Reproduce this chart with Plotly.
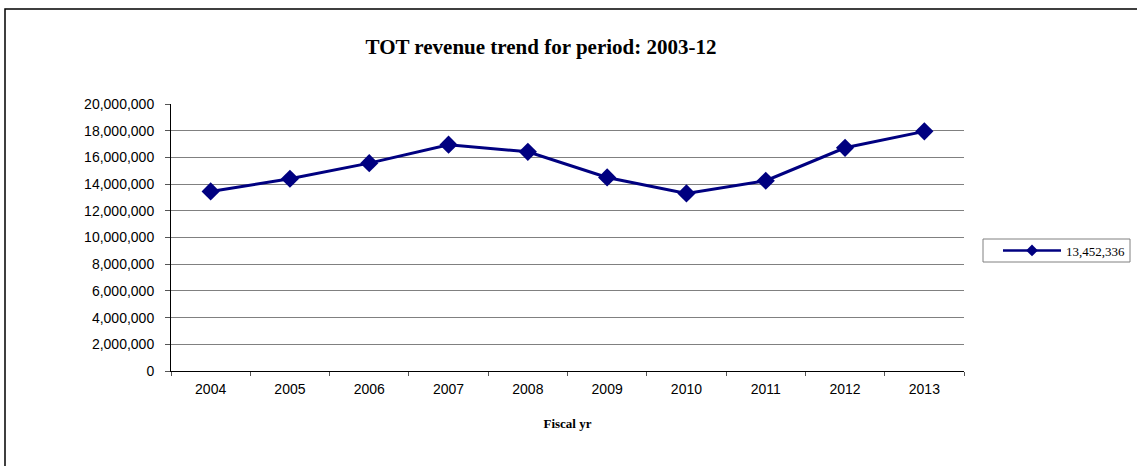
import plotly.graph_objects as go

years = ["2004", "2005", "2006", "2007", "2008", "2009", "2010", "2011", "2012", "2013"]
revenue = [13452336, 14400000, 15570000, 16950000, 16420000, 14500000, 13300000, 14250000, 16720000, 17950000]
series_name = "13,452,336"
y_ticks = [0, 2000000, 4000000, 6000000, 8000000, 10000000, 12000000, 14000000, 16000000, 18000000, 20000000]

W, H = 1137, 466
L, R, T, B = 171, 173, 104, 95
pw, ph = W - L - R, H - T - B


def px_x(p):
    return (p - L) / pw


def px_y(p):
    return (H - B - p) / ph


NAVY = "#000080"

fig = go.Figure()
fig.add_trace(go.Scatter(
    x=years, y=revenue, name=series_name, mode="lines+markers",
    line=dict(color=NAVY, width=3),
    marker=dict(symbol="diamond", size=14, color=NAVY),
    showlegend=False,
))
# legend entry (smaller marker as in the reference legend)
fig.add_trace(go.Scatter(
    x=[None], y=[None], name=series_name, mode="lines+markers",
    line=dict(color=NAVY, width=2.5),
    marker=dict(symbol="diamond", size=9, color=NAVY),
    showlegend=True,
))

fig.update_layout(
    width=W, height=H,
    margin=dict(l=L, r=R, t=T, b=B, autoexpand=False),
    paper_bgcolor="white", plot_bgcolor="white",
    title=dict(text="<b>TOT revenue trend for period: 2003-12</b>",
               font=dict(family="Liberation Serif", size=21, color="black"),
               x=541 / W, xanchor="center", y=1 - 47 / H, yanchor="middle"),
    showlegend=True,
    legend=dict(x=px_x(998), xanchor="left", y=px_y(250.5), yanchor="middle",
                borderwidth=0, bgcolor="rgba(0,0,0,0)",
                font=dict(family="Liberation Serif", size=13, color="black"),
                itemwidth=58, tracegroupgap=0),
    xaxis=dict(
        type="category", range=[-0.5, 9.5], tickson="boundaries", ticks="outside", ticklen=4,
        tickcolor="#555555",
        showline=True, linecolor="black", linewidth=1, showgrid=False,
        tickfont=dict(family="Liberation Sans", size=14, color="black"),
        ticklabelstandoff=5,
        title=dict(text="<b>Fiscal yr</b>", font=dict(family="Liberation Serif", size=13, color="black"),
                   standoff=23),
    ),
    yaxis=dict(
        range=[0, 20000000], tickvals=y_ticks, tickformat=",d",
        ticks="outside", ticklen=5, tickcolor="#555555",
        showline=True, linecolor="black", linewidth=1,
        showgrid=True, gridcolor="#808080", gridwidth=1, zeroline=False,
        tickfont=dict(family="Liberation Sans", size=14, color="black"),
        ticklabelstandoff=8,
    ),
)

# legend frame
fig.add_shape(type="rect", xref="paper", yref="paper",
              x0=px_x(983), x1=px_x(1130), y0=px_y(262), y1=px_y(239),
              line=dict(color="#808080", width=1), fillcolor="white", layer="below")

# outer chart-area border (extends past right/bottom edges)
fig.add_shape(type="rect", xref="paper", yref="paper",
              x0=px_x(5), x1=px_x(W + 20),
              y0=px_y(H + 20), y1=px_y(9),
              line=dict(color="black", width=1.5), fillcolor="rgba(0,0,0,0)", layer="below")

fig.write_html("out.html")
